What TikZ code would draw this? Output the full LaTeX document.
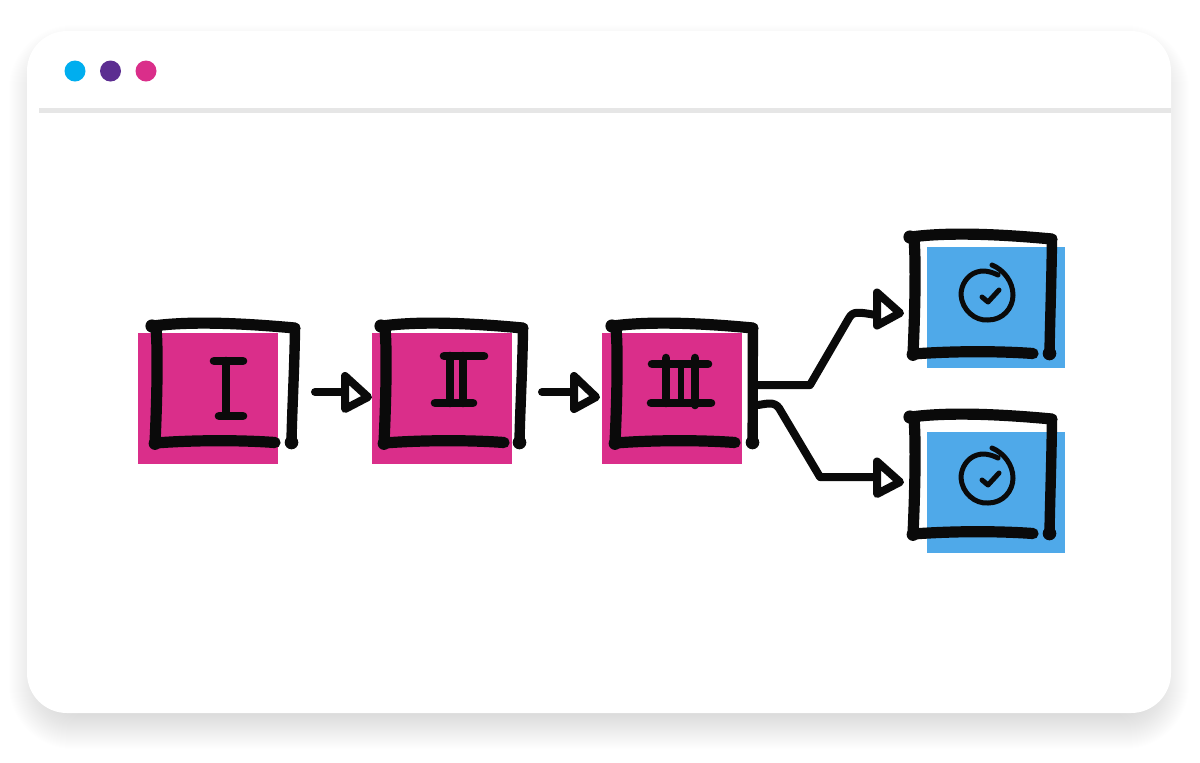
\documentclass[tikz,border=0pt]{standalone}
\usetikzlibrary{calc}
\definecolor{inkblack}{HTML}{0A0A0A}
\definecolor{hotpink}{HTML}{DA2E8A}
\definecolor{skyfill}{HTML}{4FA9E9}
\definecolor{dotcyan}{HTML}{00AEEF}
\definecolor{dotpurple}{HTML}{5C2D91}
\definecolor{rulegray}{HTML}{E6E6E6}
\def\pxu{0.02cm}
\tikzset{
  x=0.02cm,y=-0.02cm,
  pinkbox/.style={fill=hotpink,draw=none,inner sep=0pt,minimum width=140*\pxu,minimum height=131*\pxu},
  bluebox/.style={fill=skyfill,draw=none,inner sep=0pt,minimum width=138*\pxu,minimum height=121*\pxu},
  sketch/.style={draw=inkblack,line width=11.2*\pxu,line cap=round,line join=round},
  glyph/.style={draw=inkblack,line width=8.6*\pxu,line cap=round,line join=round},
  thinstroke/.style={draw=inkblack,line width=5*\pxu,line cap=round,line join=round},
  flow/.style={draw=inkblack,line width=8*\pxu,line cap=round,line join=round},
  tipshape/.style={draw=inkblack,line width=8*\pxu,line cap=round,line join=round,fill=white},
  dot/.style={circle,inner sep=0pt,minimum size=21*\pxu},
  card/.style={draw=none,fill=white,inner sep=0pt,rounded corners=40*\pxu,minimum width=1144*\pxu,minimum height=682*\pxu}
}
% #1 dx, #2 dy, #3 shift of top right corner, #4 shift of bottom right end
\newcommand{\sketchframe}[4]{%
  \begin{scope}[shift={(#1,#2)}]
    \path[sketch] (155,443) .. controls (195,440) and (240,440) .. (275,442.5);
    \path[sketch] (156,328) .. controls (158,350) and (157,400) .. (155,443);
    \path[sketch] (153,326) .. controls (190,321) and (240,323) .. (295+#3,328);
    \path[sketch,line width=10.4*\pxu] (295+#3,328) .. controls (294.5+#3,370) and (292+#4,410) .. (291.5+#4,442);
    \fill[inkblack] (152,326) circle [radius=6.6*\pxu];
    \fill[inkblack] (291.5+#4,442.5) circle [radius=6.8*\pxu];
    \fill[inkblack] (155,443.5) circle [radius=6.4*\pxu];
  \end{scope}}
\newcommand{\checkmarkring}[2]{%
  \begin{scope}[shift={(#1,#2)}]
    \path[thinstroke] (998,275) .. controls (990,271) and (982,270) .. (977,272)
      .. controls (967,275) and (961,285) .. (961,295)
      .. controls (962,310) and (975,321) .. (988,320)
      .. controls (1003,320) and (1013,308) .. (1013,295)
      .. controls (1013,282) and (1004,270) .. (992,265);
    \path[thinstroke] (982,297) -- (988,302) -- (999,290);
  \end{scope}}
\begin{document}
\begin{tikzpicture}
\useasboundingbox (0,0) rectangle (1200,762);
\fill[white] (0,0) rectangle (1200,762);
% soft shadow
\foreach \e in {-12,-11,...,24}{
  \fill[black,opacity=0.005,rounded corners={(40+max(\e,0))*\pxu}]
    (33-\e,49-\e) rectangle (1165+\e,725+\e);
}
\node[card] (window) at (599,372) {};
\node[dot,fill=dotcyan] (d1) at (75,71) {};
\node[dot,fill=dotpurple] (d2) at (110.5,71) {};
\node[dot,fill=hotpink] (d3) at (146,71) {};
\coordinate (ruleL) at (39,110.5);
\coordinate (ruleR) at (1171,110.5);
\draw[rulegray,line width=5*\pxu] (ruleL) -- (ruleR);

% coloured squares
\node[pinkbox] (p1) at (208,398.5) {};
\node[pinkbox] (p2) at (442,398.5) {};
\node[pinkbox] (p3) at (672,398.5) {};
\node[bluebox] (b1) at (996,307.5) {};
\node[bluebox] (b2) at (996,492.5) {};

% hand-drawn frames
\sketchframe{0}{0}{0}{0}
\sketchframe{229}{0}{-1}{-1}
\sketchframe{460}{0}{-2}{1}
\sketchframe{758}{-89}{-1}{0}
\sketchframe{758}{91}{-1}{0}

% numerals
\path[glyph] (214,361) -- (243,361);
\path[glyph] (226,361) -- (226,415);
\path[glyph] (219,416) -- (243,416);

\path[glyph] (444,356) -- (484,356);
\path[glyph] (435,403) -- (473,403);
\path[glyph] (450,356) -- (450,403);
\path[glyph] (463,356) -- (463,403);

\path[glyph] (652,364) -- (708,364);
\path[glyph] (651,403) -- (711,403);
\path[glyph] (666,358) -- (666,403);
\path[glyph,line width=6*\pxu] (681,364) -- (681,403);
\path[glyph] (695,358) -- (695,405);

\checkmarkring{0}{0}
\checkmarkring{0}{183}

% connectors
\coordinate (a1s) at (315,392);
\coordinate (a1e) at (344,392);
\coordinate (a2s) at (542,392);
\coordinate (a2e) at (572,392);
\coordinate (a3s) at (758,385);
\coordinate (a3b) at (810,385);
\coordinate (a3c) at (849,318);
\coordinate (a3e) at (876,315);
\coordinate (a4s) at (758,405);
\coordinate (a4b) at (779,408);
\coordinate (a4c) at (820,477);
\coordinate (a4e) at (876,477);

\draw[flow] (a1s) -- (a1e);
\draw[flow] (a2s) -- (a2e);
\draw[flow] (a3s) -- (a3b) -- (a3c) .. controls (853,311) and (858,312) .. (a3e);
\draw[flow] (a4s) .. controls (766,404) and (774,401) .. (a4b) -- (a4c) -- (a4e);

% open triangular heads
\path[tipshape] (345,376) -- (368,397) -- (345,409) -- cycle;
\path[tipshape] (574,376) -- (596,397) -- (574,409) -- cycle;
\path[tipshape] (877,292.5) -- (900,313) -- (877,325.5) -- cycle;
\path[tipshape] (877,461.5) -- (900,482) -- (877,494) -- cycle;
\end{tikzpicture}
\end{document}
